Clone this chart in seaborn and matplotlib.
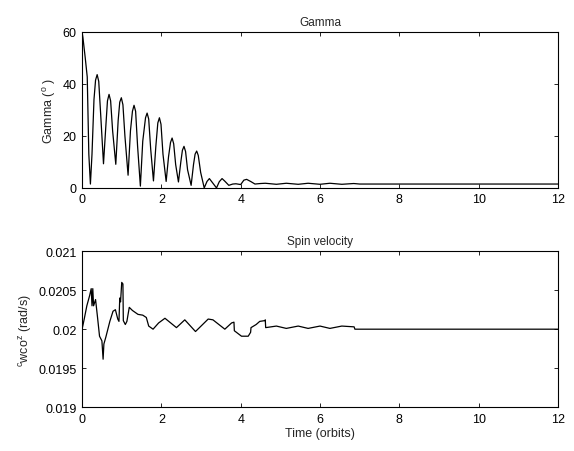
import seaborn as sns
import numpy as np
import matplotlib.pyplot as plt
import pandas as pd
from matplotlib.ticker import FuncFormatter

# Gamma (deg) vs time (orbits)
gamma_t = [0.0, 0.02, 0.08, 0.13, 0.17, 0.21, 0.25, 0.30, 0.34, 0.38, 0.42, 0.47, 0.54, 0.60,
           0.64, 0.68, 0.72, 0.77, 0.85, 0.91, 0.95, 0.99, 1.03, 1.08, 1.16, 1.22,
           1.27, 1.31, 1.35, 1.40, 1.47, 1.53, 1.60, 1.64, 1.68, 1.73, 1.80, 1.86,
           1.91, 1.95, 1.99, 2.04, 2.12, 2.18, 2.23, 2.27, 2.31, 2.36, 2.43, 2.49,
           2.53, 2.57, 2.61, 2.66, 2.75, 2.81, 2.85, 2.89, 2.93, 2.99, 3.08, 3.15,
           3.21, 3.28, 3.39, 3.46, 3.53, 3.60, 3.70, 3.80, 3.88, 4.00, 4.08, 4.15,
           4.25, 4.36, 4.50, 4.62, 4.90, 5.15, 5.45, 5.70, 6.00, 6.25, 6.55, 6.85,
           7.00, 12.0]
gamma_v = [60.0, 58.0, 50.0, 42.7, 13.0, 1.5, 13.0, 34.0, 41.5, 43.6, 41.0, 28.0, 9.3, 24.0,
           33.5, 36.0, 33.5, 22.0, 9.1, 26.0, 33.0, 34.7, 32.0, 20.0, 4.9, 22.0,
           29.5, 31.8, 29.5, 16.0, 0.7, 18.0, 27.0, 28.8, 26.5, 15.0, 2.7, 16.0,
           25.0, 27.0, 24.5, 13.0, 2.5, 12.0, 17.5, 19.2, 17.0, 9.0, 2.3, 10.0,
           14.5, 16.0, 14.0, 7.0, 1.0, 9.0, 13.0, 14.2, 12.5, 6.0, 0.0, 2.5,
           3.6, 2.2, 0.0, 2.4, 3.6, 2.6, 1.0, 1.5, 1.6, 1.3, 3.0, 3.3,
           2.5, 1.5, 1.7, 1.8, 1.4, 1.8, 1.4, 1.8, 1.4, 1.8, 1.4, 1.7,
           1.5, 1.5]

# Spin velocity (rad/s) vs time (orbits)
spin_t = [0.0, 0.05, 0.12, 0.19, 0.23, 0.25, 0.27, 0.29, 0.34, 0.39, 0.44, 0.50, 0.53, 0.55,
          0.60, 0.70, 0.78, 0.84, 0.90, 0.93, 0.95, 0.97, 1.00, 1.03, 1.04, 1.09,
          1.13, 1.19, 1.27, 1.41, 1.53, 1.62, 1.68, 1.79, 1.93, 2.09, 2.38, 2.59,
          2.86, 3.18, 3.30, 3.60, 3.77, 3.83, 3.84, 4.02, 4.19, 4.25, 4.26, 4.39,
          4.48, 4.61, 4.62, 4.63, 4.90, 5.15, 5.45, 5.70, 6.00, 6.25, 6.55, 6.86,
          6.88, 12.0]
spin_v = [0.02000, 0.02012, 0.02030, 0.02043, 0.02052, 0.02030, 0.02052, 0.02030, 0.02038,
          0.02015, 0.01991, 0.01985, 0.019615, 0.01981, 0.01990, 0.02010, 0.02023,
          0.02025, 0.02013, 0.02010, 0.02040, 0.02035, 0.02060, 0.02058, 0.02011,
          0.02006, 0.02010, 0.02028, 0.02024, 0.02019, 0.02018, 0.02015, 0.02004,
          0.02000, 0.02008, 0.02014, 0.02002, 0.02012, 0.01997, 0.02013, 0.02012,
          0.02000, 0.02008, 0.02009, 0.01998, 0.01991, 0.01991, 0.01996, 0.02002,
          0.02006, 0.02010, 0.02011, 0.02012, 0.02002, 0.02004, 0.02001, 0.02004,
          0.02001, 0.02004, 0.02001, 0.02004, 0.02003, 0.02000, 0.02000]

x_ticks = [0, 2, 4, 6, 8, 10, 12]
gamma_ticks = [0, 20, 40, 60]
spin_ticks = [0.019, 0.0195, 0.02, 0.0205, 0.021]

sns.set_style("ticks")
plt.rcParams['font.family'] = ['Liberation Sans', 'DejaVu Sans']
plt.rcParams['mathtext.fontset'] = 'custom'
plt.rcParams['mathtext.rm'] = 'Liberation Sans'
plt.rcParams['mathtext.it'] = 'Liberation Sans'
plt.rcParams['font.size'] = 9

fig = plt.figure(figsize=(5.74, 4.52), dpi=100)
ax1 = fig.add_axes([0.143, 0.582, 0.829, 0.345])
ax2 = fig.add_axes([0.143, 0.097, 0.829, 0.345])

df1 = pd.DataFrame({"t": gamma_t, "v": gamma_v})
df2 = pd.DataFrame({"t": spin_t, "v": spin_v})

sns.lineplot(data=df1, x="t", y="v", ax=ax1, color='k', lw=0.9, sort=False, estimator=None)
sns.lineplot(data=df2, x="t", y="v", ax=ax2, color='k', lw=0.9, sort=False, estimator=None)

fmt = FuncFormatter(lambda v, p: '%g' % v)
for ax in (ax1, ax2):
    ax.set_xlim(0, 12)
    ax.set_xticks(x_ticks)
    ax.tick_params(direction='in', top=True, right=True, length=3, width=0.6,
                   labelsize=9, colors='k', pad=4)
    for s in ax.spines.values():
        s.set_linewidth(0.8)
        s.set_color('k')
    ax.yaxis.set_major_formatter(fmt)

ax1.set_ylim(0, 60)
ax1.set_yticks(gamma_ticks)
ax1.set_title("Gamma", fontsize=8.5, pad=5)
ax1.set_ylabel(r"Gamma ($^{\rm o}$ )", fontsize=9, labelpad=3)
ax1.set_xlabel("")

ax2.set_ylim(0.019, 0.021)
ax2.set_yticks(spin_ticks)
ax2.set_title("Spin velocity", fontsize=8.5, pad=5)
ax2.set_ylabel(r"$^{\rm c}$wco$^{\rm z}$ (rad/s)", fontsize=9, labelpad=3)
ax2.set_xlabel("Time (orbits)", fontsize=9, labelpad=2)

fig.savefig("out.png", dpi=100)
